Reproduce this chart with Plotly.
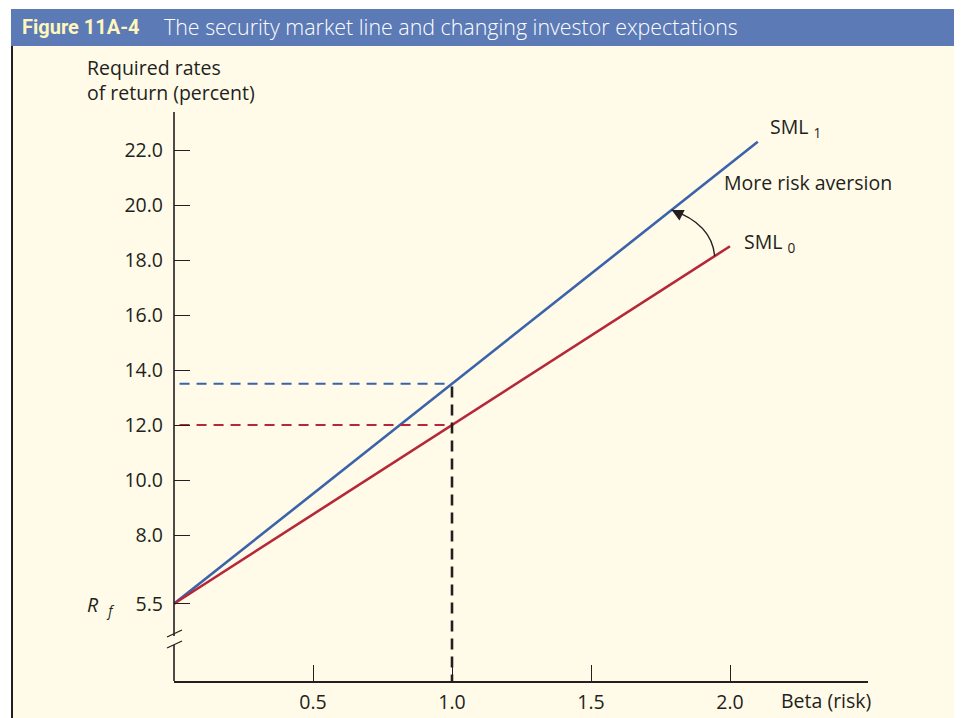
import numpy as np
import plotly.graph_objects as go

# ---------------- data ----------------
rf = 5.5
beta_sml0 = [0.0, 1.0, 2.0]
ret_sml0 = [5.5, 12.0, 18.5]
beta_sml1 = [0.0, 1.0, 2.1]
ret_sml1 = [5.5, 13.5, 22.3]
beta_ref = 1.0
ret_ref0 = 12.0
ret_ref1 = 13.5
y_ticks = [5.5, 8.0, 10.0, 12.0, 14.0, 16.0, 18.0, 20.0, 22.0]
x_ticks = [0.5, 1.0, 1.5, 2.0]

# ---------------- geometry (reference-window pixels) ----------------
OFF = 8                      # page body margin
W, H = 962 - OFF, 718 - OFF  # figure size
X0PX, XUNIT = 174, 278.0     # beta 0 pixel, px per beta unit
Y22PX, YUNIT = 150, 27.5     # pixel of 22.0, px per percent
X_END_PX = 868
Y_TOP_PX, Y_BOT_PX = 112, 681

def bx(b):
    return X0PX + XUNIT * b

def vy(v):
    return Y22PX + (22 - v) * YUNIT

def px(x):
    return (x - OFF) / W

def py(y):
    return 1 - (y - OFF) / H

x_range = [0, (X_END_PX - X0PX) / XUNIT]
y_range = [22 - (Y_BOT_PX - Y22PX) / YUNIT, 22 + (Y22PX - Y_TOP_PX) / YUNIT]

INK = "#231F20"
BLUE = "#3B63AA"
RED = "#B5283A"
CREAM = "#FFFBE8"
BAR = "#5B7AB6"
FONT = "Open Sans"
FS = 19.5

fig = go.Figure()

# SML lines
fig.add_trace(go.Scatter(x=beta_sml1, y=ret_sml1, mode="lines",
                         line=dict(color=BLUE, width=2.6), hoverinfo="skip"))
fig.add_trace(go.Scatter(x=beta_sml0, y=ret_sml0, mode="lines",
                         line=dict(color=RED, width=2.6), hoverinfo="skip"))
# dashed guides
fig.add_trace(go.Scatter(x=[0.02, beta_ref], y=[ret_ref1, ret_ref1], mode="lines",
                         line=dict(color=BLUE, width=2.2, dash="10px,7px"), hoverinfo="skip"))
fig.add_trace(go.Scatter(x=[0.02, beta_ref], y=[ret_ref0, ret_ref0], mode="lines",
                         line=dict(color=RED, width=2.2, dash="10px,7px"), hoverinfo="skip"))
fig.add_trace(go.Scatter(x=[beta_ref, beta_ref], y=[ret_ref1 - 0.1, y_range[0]], mode="lines",
                         line=dict(color=INK, width=2.6, dash="11px,7px"), hoverinfo="skip"))

shapes = []
# page background pieces
shapes.append(dict(type="rect", xref="paper", yref="paper", x0=px(11), x1=px(962), y0=py(718), y1=py(46),
                   fillcolor=CREAM, line=dict(width=0), layer="below"))
shapes.append(dict(type="rect", xref="paper", yref="paper", x0=px(11), x1=px(962), y0=py(46), y1=py(9),
                   fillcolor=BAR, line=dict(width=0), layer="below"))
shapes.append(dict(type="line", xref="paper", yref="paper", x0=px(12), x1=px(12), y0=py(46), y1=py(718),
                   line=dict(color=INK, width=2)))
# y-axis line with break
ybrk_top = 636
ybrk_bot = 645
shapes.append(dict(type="line", xref="paper", yref="paper", x0=px(X0PX), x1=px(X0PX),
                   y0=py(Y_TOP_PX), y1=py(ybrk_top), line=dict(color=INK, width=1.6)))
shapes.append(dict(type="line", xref="paper", yref="paper", x0=px(X0PX), x1=px(X0PX),
                   y0=py(ybrk_bot), y1=py(Y_BOT_PX), line=dict(color=INK, width=1.6)))
for dy in (0, 11):
    shapes.append(dict(type="line", xref="paper", yref="paper", x0=px(167), x1=px(182),
                       y0=py(637 + dy), y1=py(630 + dy), line=dict(color=INK, width=1.3)))

# curved arrow from SML0 to SML1
b_start, b_end = 1.945, 1.79
sx, sy = bx(b_start), vy(np.interp(b_start, beta_sml0, ret_sml0))
ex, ey = bx(b_end), vy(np.interp(b_end, beta_sml1, ret_sml1))
cx, cy = sx - 3, ey + 14
path = f"M {px(sx)},{py(sy)} Q {px(cx)},{py(cy)} {px(ex)},{py(ey)}"
shapes.append(dict(type="path", xref="paper", yref="paper", path=path,
                   line=dict(color=INK, width=1.4)))

annotations = []
annotations.append(dict(xref="paper", yref="paper", x=px(ex), y=py(ey), text="",
                        showarrow=True, ax=10, ay=5, arrowhead=2, arrowsize=1.8,
                        arrowwidth=1.3, arrowcolor=INK, standoff=0))

def txt(x, y, text, size=FS, color=INK, xanchor="left", family=FONT, weight=None):
    f = dict(family=family, size=size, color=color)
    if weight is not None:
        f["weight"] = weight
    annotations.append(dict(xref="paper", yref="paper", x=px(x), y=py(y), text=text,
                            showarrow=False, xanchor=xanchor, yanchor="middle",
                            align="left", font=f))

txt(20, 27, "Figure 11A-4", size=20, color="#FFF6BC", family="Roboto", weight=700)
txt(162, 27, "The security market line and changing investor expectations",
    size=21.4, color="#FFFFFF", family=FONT, weight=300)
txt(85, 80, "Required rates<br>of return (percent)")
txt(779, 700, "Beta (risk)")
txt(768, 127, "SML <sub>1</sub>")
txt(742, 242, "SML <sub>0</sub>")
txt(722, 182, "More risk aversion")
txt(85, vy(rf) + 2, "<i>R</i>&nbsp; <sub><i>f</i></sub>")

fig.update_layout(
    width=W, height=H,
    margin=dict(l=0, r=0, t=0, b=0),
    paper_bgcolor="white", plot_bgcolor="rgba(0,0,0,0)",
    showlegend=False,
    shapes=shapes, annotations=annotations,
    font=dict(family=FONT, size=FS, color=INK),
    xaxis=dict(domain=[px(X0PX), px(X_END_PX)], range=x_range, showgrid=False, zeroline=False,
               showline=True, linecolor=INK, linewidth=1.6,
               ticks="inside", ticklen=16, tickwidth=1.3, tickcolor=INK,
               tickvals=x_ticks, tickformat=".1f", ticklabelstandoff=3,
               tickfont=dict(family=FONT, size=FS, color=INK), fixedrange=True),
    yaxis=dict(domain=[py(Y_BOT_PX), py(Y_TOP_PX)], range=y_range, showgrid=False, zeroline=False,
               showline=False,
               ticks="inside", ticklen=16, tickwidth=1.3, tickcolor=INK,
               tickvals=y_ticks, tickformat=".1f", ticklabelstandoff=10,
               tickfont=dict(family=FONT, size=FS, color=INK), fixedrange=True),
)

fig.write_html("out.html")
